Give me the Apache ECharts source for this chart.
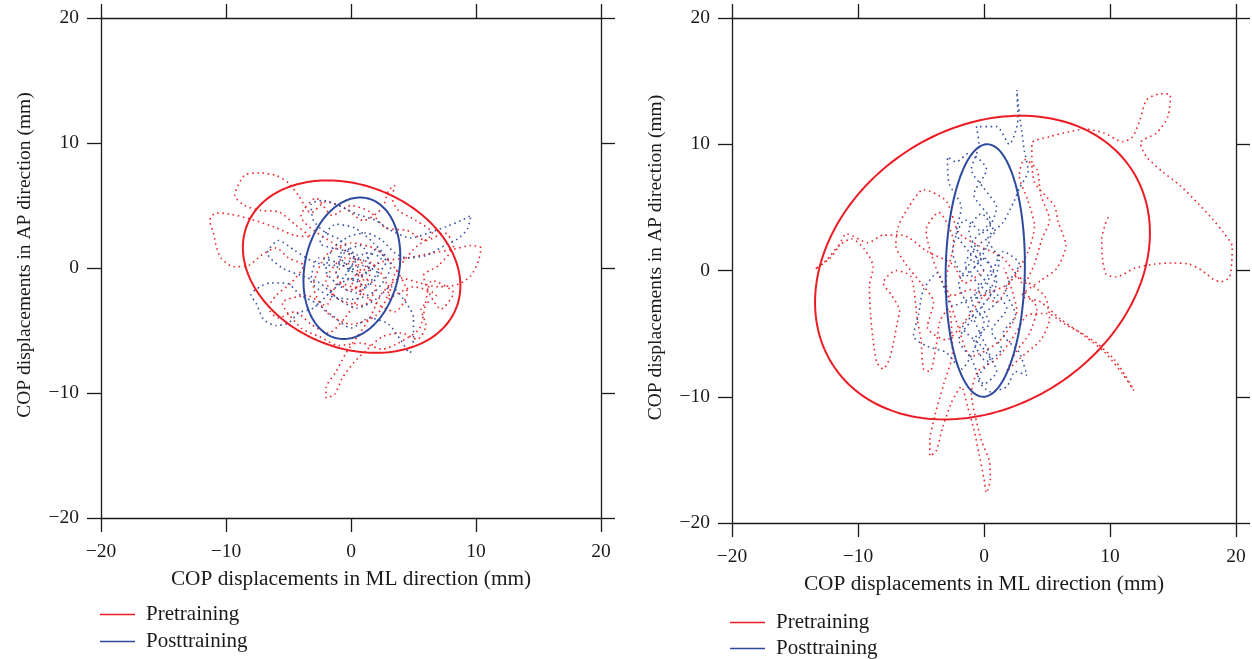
<!DOCTYPE html>
<html>
<head>
<meta charset="utf-8">
<script src="https://cdn.jsdelivr.net/npm/echarts@6/dist/echarts.min.js"></script>
<style>
html,body{margin:0;padding:0;background:#fff;}
#chart{width:1252px;height:659px;}
</style>
</head>
<body>
<div id="chart"></div>
<script>
// ---- Data (mm) ----
var seriesNames = ['Pretraining', 'Posttraining'];
var axisTicks = [-20, -10, 0, 10, 20];
var xAxisTitle = 'COP displacements in ML direction (mm)';
var yAxisTitle = 'COP displacements in AP direction (mm)';

// Confidence ellipses: [centerX, centerY, semiMajor, semiMinor, angleDeg]
var ellipsePre1 = [0.05, 0.11, 9.0, 6.5, -21.7];
var ellipsePost1 = [0.07, -0.02, 5.73, 3.77, 78.1];
var ellipsePre2 = [-0.12, 0.23, 14.16, 10.99, 33.2];
var ellipsePost2 = [0.1, 0.0, 10.0, 3.14, 89];

// COP trajectories
var pathPre1 = [
 [0.5,-0.5],[2,-1.5],[1,-3],[-1,-2.5],[-2,-1],[-0.5,0.8],[1.8,0.3],[3,-1.8],[2,-3.8],[0,-4.5],[-2,-3.5],[-3,-1.5],[-2,1],[0,2],[2,1.5],[3.5,0],[4.5,-2],[3.5,-3.5],[1.5,-2.5],[0,-1],
 [2.5,0.5],[4.5,0.8],[6.5,1.2],[8.2,1.5],[9.6,1.8],[10.4,1.6],[10.2,0.6],[9.6,-0.6],[8.6,-1.3],[7,-1.5],[5.5,-1.2],[4,-0.8],
 [2.5,-2],[1.5,-4],[0.5,-5.5],[-0.4,-6.8],[-1.2,-8.3],[-2,-9.6],[-2,-10.4],[-1.3,-10.1],[-0.7,-8.8],[0.2,-7.6],[1.2,-6.6],[2.5,-5.5],[4,-5.2],[5.3,-5.7],[6,-4.6],[5.6,-3.3],[6.8,-2.2],[5,-1.5],[3,-2.5],
 [3.5,-0.5],[5,1.5],[6.5,2.8],[5.2,3.8],[3.8,4.6],[3.3,5.6],[3.5,6.6],[3,6.2],[2.5,4.8],[1,3.8],
 [-0.5,4.8],[-2,5.3],[-3.2,4.4],[-4.2,5.8],[-5,6.8],[-6,7.4],[-7.2,7.6],[-8.4,7.5],[-9,6.7],[-9.3,5.8],[-8.5,5],[-7.2,4.6],[-5.8,4.5],[-4.5,3.5],[-3.2,2.5],
 [-4.5,2.6],[-6.2,3.3],[-8,3.9],[-9.6,4.3],[-10.8,4.4],[-11.3,3.8],[-11,2.8],[-10.8,1.8],[-10.4,0.8],[-9.4,0.1],[-8.2,0.2],[-7.2,1],[-6,1.6],[-5,0.8],[-3.8,0.2],
 [-4.8,-1.2],[-6,-2.2],[-6.6,-3.2],[-5.8,-4],[-4.5,-3.5],[-3.2,-4.5],[-1.8,-5.2],[-0.5,-4],[0.5,-2.5],[1.5,-0.5],
 [-4,4.2],[-2.8,5.6],[-1.5,4.2],[0,5],[1.5,4.5],[2.8,3.2],[4.5,3],[6,2.2],[7.5,2.8],[8.2,1.8],[7,0.2],[5.8,-0.6],
 [7.2,-3.3],[8.2,-2],[6.5,-1],[5.5,-4.8],[3.8,-6],[2.5,-6.5],[0.8,-6],[-1,-6.2],[-2.5,-5.5],[-4,-4.8],[-5.5,-2.8],[-3.5,-2.2],[-2,-3],
 [-1,-1.2],[0.8,-1.8],[0.2,0.5],[-1.2,-0.4],[-0.2,-1.8],[1,-1],[0.5,0.5]
];
var pathPost1 = [
 [0,0],[-1,1],[0.8,1.8],[1.5,0.2],[0.3,-1],[-1.2,-0.5],[-0.5,1.2],[1,0.6],[2,1.5],[2.8,0.5],[1.8,-0.8],[0.5,-2],[-0.8,-1.5],[-2,-0.2],[-1.5,1.5],[-0.2,2.5],[1.2,2.8],[2.5,2.2],[3.5,1.2],[4.5,0.8],
 [6,1],[7.5,1.8],[8.5,2.3],[9.3,3.1],[9.6,4.2],[8.8,3.8],[7.6,3.3],[6.2,2.8],[4.8,2.4],[3.2,3],[2,3.8],[0.5,4.3],[-1,5],[-2.2,5.4],[-3.2,5.1],[-3,3.8],[-2,2.8],[-0.8,2.2],[0.2,0.8],[-1.5,0.2],
 [-3,0.5],[-4.5,1.4],[-5.8,2.2],[-6.7,1.2],[-5.5,0],[-4,-0.6],[-2.5,-1.2],[-1,-2.5],[0.5,-3.2],[2,-2.5],[3.2,-1.5],[4.2,-2.5],[5,-4],[5,-5.6],[4.7,-6.8],[4,-5.8],[3,-4.5],[1.5,-4],[0,-4.8],[-1.5,-3.8],
 [-2.8,-2.8],[-4,-2.2],[-5.2,-1.2],[-6.5,-1.2],[-7.6,-1.7],[-8,-2.2],[-7.6,-2.8],[-7,-4.1],[-6,-4.6],[-5,-4.4],[-4.2,-3.6],[-3,-3.2],[-1.5,-1.8],[0,-0.8],[1.2,-1.5],[2.2,-0.5],[1,0.2],[-0.3,-0.3],[0.5,1],
 [-2.5,2],[-1.2,3.5],[0.3,3.2],[1.8,2],[3.2,0.2],[2,-1.8],[0.2,-2.5],[-1.8,-2.2],[-3.2,-1],[-2.6,0.8],[-1,0.4],[0.8,-0.6],[2.4,0.8],[1.2,1.2],[-0.6,-0.8]
];
var pathPre2 = [
 [0,0],[-1.5,-1],[-2.5,0.5],[-4.5,1.5],[-6.5,2.8],[-8,2.8],[-9.2,2.2],[-10.9,2.9],[-11.6,1.8],[-12.2,1],[-13.4,0.1],[-12.5,0.8],[-11.5,2],[-10.5,2.5],[-9.5,1.7],[-8.8,0.3],[-9.1,-1.3],[-9,-3.5],[-8.8,-5.5],[-8.5,-7.3],
 [-8,-7.8],[-7.5,-7],[-7.2,-5.8],[-6.9,-4.2],[-6.7,-3.2],[-7.3,-2],[-8,-1],[-7,0],[-5.8,-0.5],[-5.3,-3.8],[-5,-5.5],[-4.8,-7.8],[-4.3,-8],[-3.8,-6],[-3.5,-4],[-2.8,-3],
 [-2.5,-6.5],[-3.2,-9],[-3.9,-11.5],[-4.3,-13.5],[-4.3,-14.7],[-3.8,-14.3],[-3.3,-12.5],[-2.6,-10.5],[-1.8,-9.2],[-1.3,-10.8],[-0.8,-12.6],[-0.4,-14.5],[0,-16.5],[0.2,-17.6],[0.5,-16.5],[0.4,-15],[-0.2,-13.5],[-0.7,-11.5],[-1,-9.8],[-0.5,-8],
 [1,-7],[2.5,-5],[3.5,-3.5],[5,-3.4],[6.5,-4.3],[7.8,-5],[9,-5.8],[10.3,-7],[11.2,-8.3],[11.9,-9.5],[11,-8.2],[9.6,-6.5],[8,-5.2],[6,-3.8],[4.5,-2.5],
 [3,-2],[4.5,-0.8],[5.8,0.2],[6.5,2],[5.9,3.8],[5.6,5.1],[4.8,6],[4,7],[3.8,8.5],[3.8,10.1],[5.2,10.6],[6.8,11],[8,11.2],[9.5,10.9],[11,10.2],[11.8,10.6],[12.4,12],[12.9,13.5],[14,14],[14.8,13.9],
 [14.6,12.2],[13.7,10.9],[12.4,10.1],[12.9,9],[14.2,7.8],[15.6,6.7],[17,5.3],[18.2,4],[19,3],[19.7,1.9],
 [19.5,-0.5],[18.8,-0.9],[18.2,-0.7],[17.3,0],[16.3,0.5],[15,0.6],[13.5,0.5],[12,0.2],[10.5,-0.5],[9.7,-0.3],[9.4,1],[9.35,2.5],[9.6,3.6],[9.9,4.3],
 ['-','-'],
 [3,-1],[1.5,1],[-0.5,2],[-2,3],[-3,5.5],[-4.8,6.4],[-6,5],[-6.8,3.5],[-7,2],[-6.2,0.5],[-5,-1],[-4,-2.5],[-4.5,-4.5],[-3,-5.5],[-1.5,-4],[0,-2],[2,-1],[3.5,1.5],[4,3.5],[3.5,5.5],
 [2.8,7.5],[3.2,8.8],[4.2,8],[4.5,6],[5.2,4],[4.6,2.5],[4,0.5],[3.2,-1.5],[4.2,-3],[3.6,-5],[2.5,-6.5],[1.8,-8],[2.8,-7],[4.5,-5.5],[5.2,-3.8],[4.8,-2],[2.5,-0.5],[1,-2.5],[-1,-1.5],[-2.5,-2],
 [-3.8,0.2],[-4.6,3.2],[-3.6,4.6],[-2.4,2.2],[-3,-0.8],[-2,-4.6],[-1,-6.8],[1.2,-5.6],[2.6,-3.2],[1.6,0.2]
];
var pathPost2 = [
 [0,0],[-1,2],[0.5,4],[-0.8,6],[0.2,8],[-1.2,9.3],[-2.2,8.6],[-2.9,9],[-2.8,7],[-1.8,5],[-2.2,3],[-1,1],[-2,-1],[-1.2,-3],[-0.3,-5],[0.5,-7],[-0.5,-8.5],[0.5,-9.6],[1.8,-9.2],[2.5,-8],
 [3.4,-8.3],[2.8,-6.5],[1.5,-5],[2.5,-3.5],[1.7,-1.5],[2.8,0.5],[1.5,1.5],[0.5,-0.5],[-0.8,-2],[-2.5,-2.8],[-3.7,-0.2],[-4.8,-1.5],[-5.2,-3.5],[-5.6,-5.2],[-4.5,-6],[-3,-6.5],[-1.8,-7.8],[-0.8,-6.3],[0,-4],[-1,-2.5],
 [0.5,-1.5],[1.2,0.8],[0.3,2.5],[1.5,3.8],[2.4,5.5],[2.8,6.5],[3.5,7.9],[3.2,9.5],[3,11],[2.8,12.5],[2.6,14.3],[2.7,12],[2,10],[1,11.4],[-0.6,11.4],[-0.4,10],[-1,8],[0,6.5],[1,5],[0,3],
 [-1.5,4],[-2.5,1.5],[-1.5,-0.5],[0,1],[1,-1],[-0.3,-3],[-1.7,-4.5],[-0.2,-6],[1,-8],[0,-9],[-1,-7],[-2,-5.5],[-1,-4],[0.5,-3],[1,-2.5],[-0.5,-1],[-1.5,0.5],[-0.5,2],[0.8,3],[-0.2,4.5],
 [-1.2,3.2],[-0.3,1.2],[0.6,0.2],[-0.6,-1.8],[0.4,-4.2],[-0.8,-5.5],[0.2,-7.2],[1.4,-6.2],[0.6,-4.8],[1.8,-3],[0.4,-1.2],[-0.8,0.6],[0.3,2],[-0.5,0.5]
];

var RED = '#ec1c24';
var BLUE = '#2d4a9e';
var FONT = '"Liberation Serif", "DejaVu Serif", serif';

function fmt(v) { return v < 0 ? '\u2212' + Math.abs(v) : String(v); }

var grids = [
  {left: 101, top: 18, width: 500, height: 500},
  {left: 732, top: 18, width: 504, height: 505}
];

function makeAxes(gi) {
  var common = {
    type: 'value', min: axisTicks[0], max: axisTicks[axisTicks.length - 1], interval: 10,
    gridIndex: gi, splitLine: {show: false},
    axisLine: {show: true, onZero: false, lineStyle: {color: '#1a1a1a', width: 1.3}},
    axisTick: {show: true, inside: false, length: 14, lineStyle: {color: '#1a1a1a', width: 1.3}}
  };
  var xb = Object.assign({}, common, {
    position: 'bottom',
    axisLabel: {show: true, formatter: fmt, color: '#1a1a1a', fontFamily: FONT, fontSize: 19.5, margin: 24},
    name: xAxisTitle, nameLocation: 'middle', nameGap: 51,
    nameTextStyle: {color: '#1a1a1a', fontFamily: FONT, fontSize: 21.3}
  });
  var xt = Object.assign({}, common, {position: 'top', axisLabel: {show: false}});
  var yl = Object.assign({}, common, {
    position: 'left',
    axisLabel: {show: true, formatter: fmt, color: '#1a1a1a', fontFamily: FONT, fontSize: 19.5, margin: 22},
    name: yAxisTitle, nameLocation: 'middle', nameGap: 66, nameRotate: 90,
    nameTextStyle: {color: '#1a1a1a', fontFamily: FONT, fontSize: 19.5, padding: [0, 0, 0, 26]}
  });
  var yr = Object.assign({}, common, {position: 'right', axisLabel: {show: false}});
  return {x: [xb, xt], y: [yl, yr]};
}

var a0 = makeAxes(0), a1 = makeAxes(1);

function ellipseSeries(name, params, color, xi, yi) {
  return {
    name: name, type: 'custom', coordinateSystem: 'cartesian2d',
    xAxisIndex: xi, yAxisIndex: yi, z: 5, silent: true,
    itemStyle: {color: color},
    data: [params],
    encode: {x: 0, y: 1},
    renderItem: function (p, api) {
      var cx = api.value(0), cy = api.value(1), a = api.value(2), b = api.value(3), th = api.value(4) * Math.PI / 180;
      var pts = [];
      for (var k = 0; k < 180; k++) {
        var t = 2 * Math.PI * k / 180;
        var ex = a * Math.cos(t), ey = b * Math.sin(t);
        pts.push(api.coord([cx + ex * Math.cos(th) - ey * Math.sin(th), cy + ex * Math.sin(th) + ey * Math.cos(th)]));
      }
      return {type: 'polygon', shape: {points: pts}, style: {fill: 'transparent', stroke: color, lineWidth: 2}};
    }
  };
}

function pathSeries(name, data, color, xi, yi) {
  return {
    name: name, type: 'line', xAxisIndex: xi, yAxisIndex: yi, data: data,
    showSymbol: false, symbol: 'none', smooth: 0.25, silent: true, connectNulls: false, z: 2,
    itemStyle: {color: color},
    lineStyle: {color: color, width: 1.6, type: [1.6, 3.6], opacity: 0.95}
  };
}

var legendText = {fontFamily: FONT, fontSize: 21, color: '#1a1a1a', padding: [0, 0, 0, 6]};
var option = {
  animation: false,
  backgroundColor: '#fff',
  grid: grids,
  xAxis: [a0.x[0], a0.x[1], a1.x[0], a1.x[1]],
  yAxis: [a0.y[0], a0.y[1], a1.y[0], a1.y[1]],
  legend: [
    {left: 100, top: 604, height: 80, padding: 0, orient: 'vertical', itemGap: 6, icon: 'rect', itemWidth: 35, itemHeight: 1.5,
     data: seriesNames, textStyle: legendText, selectedMode: false},
    {left: 730, top: 612, height: 80, padding: 0, orient: 'vertical', itemGap: 5, icon: 'rect', itemWidth: 35, itemHeight: 1.5,
     data: seriesNames, textStyle: legendText, selectedMode: false}
  ],
  series: [
    pathSeries(seriesNames[0], pathPre1, RED, 0, 0),
    pathSeries(seriesNames[1], pathPost1, BLUE, 0, 0),
    ellipseSeries(seriesNames[0], ellipsePre1, RED, 0, 0),
    ellipseSeries(seriesNames[1], ellipsePost1, BLUE, 0, 0),
    pathSeries(seriesNames[0], pathPre2, RED, 2, 2),
    pathSeries(seriesNames[1], pathPost2, BLUE, 2, 2),
    ellipseSeries(seriesNames[0], ellipsePre2, RED, 2, 2),
    ellipseSeries(seriesNames[1], ellipsePost2, BLUE, 2, 2)
  ]
};

var chart = echarts.init(document.getElementById('chart'), null, {renderer: 'canvas'});
chart.setOption(option);
</script>
</body>
</html>
